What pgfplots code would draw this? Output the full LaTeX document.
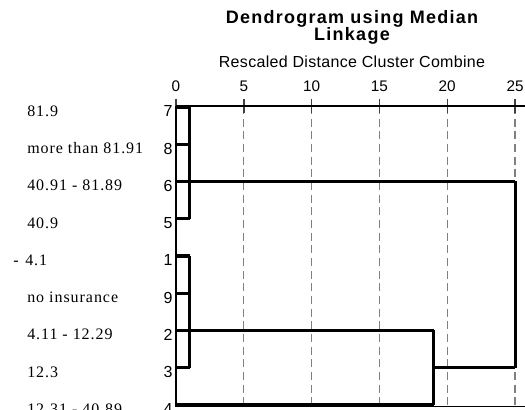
\documentclass[border=0pt]{standalone}
\usepackage{fontspec}
\setmainfont{Liberation Serif}
\setsansfont{Liberation Sans}
\newfontfamily\rowfont{Liberation Serif}[LetterSpace=6]
\newfontfamily\titlefont{Liberation Sans}[LetterSpace=7]
\newfontfamily\subfont{Liberation Sans}[LetterSpace=2]
\usepackage{pgfplots}
\pgfplotsset{compat=1.18}
\begin{document}
\begin{tikzpicture}[x=0.75pt,y=0.75pt]
\begin{axis}[
  at={(132pt,2.1pt)}, anchor=south west,
  scale only axis, width=261.4pt, height=226pt,
  xmin=0, xmax=25.7, ymin=0.97, ymax=9.06, y dir=reverse,
  axis x line*=top, axis y line*=left,
  axis line style={-, line width=1.5pt, black},
  clip=false,
  xtick={0,5,10,15,20,25},
  xticklabels={0,5,10,15,20,25},
  tick align=center,
  major tick length=11pt,
  xtick style={line width=1.1pt, black!75},
  xmajorgrids,
  major grid style={gray, line width=1pt, dash pattern=on 6pt off 3.5pt},
  xticklabel style={font=\sffamily\fontsize{11.5}{13}\selectfont, yshift=1.5pt},
  ytick={1,2,3,4,5,6,7,8,9},
  yticklabels={7,8,6,5,1,9,2,3,4},
  ytick style={draw=none},
  yticklabel style={font=\sffamily\fontsize{12}{14}\selectfont, anchor=base east, yshift=-7.5pt, xshift=6.5pt},
]
% frame bottom
\addplot[black, line width=1.2pt] coordinates {(0,9.04) (25.7,9.04)};
% cluster A: 7,8,6,5 (rows 1-4)
\addplot[black, line width=2.3pt] coordinates {(0,1) (1,1)};
\addplot[black, line width=2.3pt] coordinates {(0,2) (1,2)};
\addplot[black, line width=2.3pt] coordinates {(0,4) (1,4)};
\addplot[black, line width=2.3pt] coordinates {(1,1) (1,4)};
\addplot[black, line width=2.3pt] coordinates {(0,3) (25,3)};
% cluster B: 1,9,2,3 (rows 5-8)
\addplot[black, line width=2.3pt] coordinates {(0,5) (1,5)};
\addplot[black, line width=2.3pt] coordinates {(0,6) (1,6)};
\addplot[black, line width=2.3pt] coordinates {(0,8) (1,8)};
\addplot[black, line width=2.3pt] coordinates {(1,5) (1,8)};
\addplot[black, line width=2.3pt] coordinates {(0,7) (19,7)};
% leaf 4 joins at 19
\addplot[black, line width=2.3pt] coordinates {(0,9) (19,9)};
\addplot[black, line width=2.3pt] coordinates {(19,7) (19,9)};
% final merge at 25
\addplot[black, line width=2.3pt] coordinates {(19,8) (25,8)};
\addplot[black, line width=2.3pt] coordinates {(25,3) (25,8)};
\end{axis}
% titles
\node[font=\titlefont\bfseries\fontsize{13.5}{15}\selectfont] at (352,410-19) {Dendrogram using Median};
\node[font=\titlefont\bfseries\fontsize{13.5}{15}\selectfont] at (352,410-36) {Linkage};
\node[font=\subfont\fontsize{12}{14}\selectfont] at (352,410-62) {Rescaled Distance Cluster Combine};
% row names
\foreach \t [count=\i] in {81.9, more than 81.91, 40.91 - 81.89, 40.9, {}, no insurance, 4.11 - 12.29, 12.3, 12.31 - 40.89}{
  \node[font=\rowfont\fontsize{12}{14}\selectfont, anchor=base west, inner sep=0pt] at (27,410-106.7-37.27*\i+37.27-9.5) {\t};
}
\node[font=\rowfont\fontsize{12}{14}\selectfont, anchor=base west, inner sep=0pt] at (13,410-106.7-37.27*4-9.5) {-\hspace{5pt}4.1};
\pgfresetboundingbox
\path (0,0) rectangle (525,410);
\end{tikzpicture}
\end{document}
